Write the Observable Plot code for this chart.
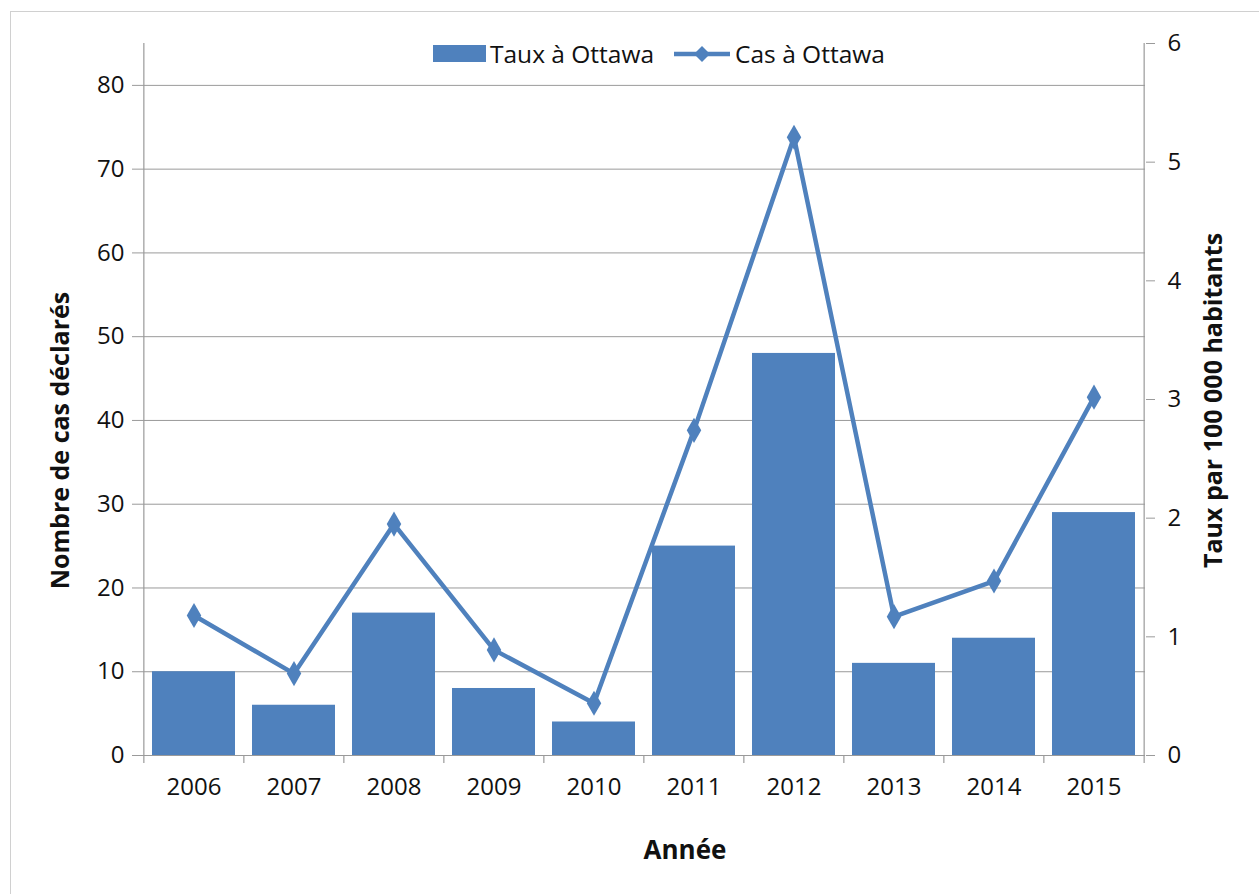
<!DOCTYPE html>
<html>
<head>
<meta charset="utf-8">
<script src="https://cdn.jsdelivr.net/npm/d3@7"></script>
<script src="https://cdn.jsdelivr.net/npm/@observablehq/plot@0.6"></script>
<style>
  html, body { margin: 0; padding: 0; background: #fff; }
  #wrap { position: relative; width: 1259px; height: 894px; overflow: hidden; font-family: "Open Sans", sans-serif; }
  #frame { position: absolute; left: 10px; top: 11px; width: 1300px; height: 900px; border: 1px solid #d0d0d0; box-sizing: border-box; }
  #chart { position: absolute; left: 0; top: 0; }
  #legend { position: absolute; top: 37px; left: 433px; display: flex; align-items: center; font-size: 24.5px; color: #111; white-space: nowrap; }
  #legend .item { display: flex; align-items: center; }
  #legend svg { display: block; }
</style>
</head>
<body>
<div id="wrap">
  <div id="frame"></div>
  <div id="chart"></div>
  <div id="legend"></div>
</div>
<script>
// ---- data ----
const years = ["2006","2007","2008","2009","2010","2011","2012","2013","2014","2015"];
const barValues = [10, 6, 17, 8, 4, 25, 48, 11, 14, 29];          // left axis (Nombre de cas déclarés)
const lineValues = [1.18, 0.69, 1.95, 0.89, 0.44, 2.74, 5.21, 1.17, 1.47, 3.02]; // right axis (Taux par 100 000)
const leftTicks = [0, 10, 20, 30, 40, 50, 60, 70, 80];
const rightTicks = [0, 1, 2, 3, 4, 5, 6];
const seriesNames = ["Taux à Ottawa", "Cas à Ottawa"];
const titleX = "Année";
const titleLeft = "Nombre de cas déclarés";
const titleRight = "Taux par 100 000 habitants";

// ---- layout ----
const W = 1259, H = 894;
const mL = 142, mR = 114, mT = 43, mB = 139;
const leftMax = 85, rightMax = 6;
const k = leftMax / rightMax;
const color = "#4f81bd";
const gridColor = "#9a9a9a";
const step = (W - mL - mR) / years.length;

const data = years.map((y, i) => ({year: y, count: barValues[i], rate: lineValues[i]}));
const lastYear = years[years.length - 1];

const plot = Plot.plot({
  width: W, height: H,
  marginLeft: mL, marginRight: mR, marginTop: mT, marginBottom: mB,
  style: {fontFamily: "'Open Sans', sans-serif", fontSize: "24px", color: "#111", background: "transparent"},
  x: {type: "band", domain: years, paddingInner: 0.17, paddingOuter: 0.085, axis: null},
  y: {domain: [0, leftMax], axis: null},
  marks: [
    Plot.gridY(leftTicks.filter(d => d > 0), {stroke: gridColor, strokeOpacity: 1, strokeWidth: 1}),
    Plot.barY(data, {x: "year", y: "count", fill: color}),
    Plot.ruleY([0], {stroke: gridColor, strokeWidth: 1.2}),
    // vertical axis lines (left and right edges of the category band)
    Plot.ruleX([years[0]], {dx: -step / 2, stroke: gridColor, strokeWidth: 1.2}),
    Plot.ruleX([lastYear], {dx: step / 2, stroke: gridColor, strokeWidth: 1.2}),
    // category boundary ticks
    Plot.ruleX(years, {x: d => d, y1: 0, y2: 0, insetBottom: -8, stroke: gridColor, strokeWidth: 1.2, dx: -step / 2}),
    Plot.ruleX([lastYear], {y1: 0, y2: 0, insetBottom: -8, stroke: gridColor, strokeWidth: 1.2, dx: step / 2}),
    Plot.line(data, {x: "year", y: d => d.rate * k, stroke: color, strokeWidth: 4.5}),
    Plot.dot(data, {x: "year", y: d => d.rate * k, symbol: "diamond", r: 7.6, fill: color, stroke: "none"}),
    Plot.axisY({anchor: "left", ticks: leftTicks, tickSize: 10, tickPadding: 8, stroke: gridColor, fill: "#111", label: null, fontSize: 24}),
    Plot.axisY({anchor: "right", ticks: rightTicks.map(v => v * k), tickFormat: d => String(Math.round(d / k)), tickSize: 9, tickPadding: 13, stroke: gridColor, fill: "#111", label: null, fontSize: 24}),
    Plot.axisX({anchor: "bottom", tickSize: 0, tickPadding: 22, fill: "#111", label: null, fontSize: 24}),
    Plot.text([titleLeft], {frameAnchor: "left", textAnchor: "middle", rotate: -90, dx: -82, dy: 41, fontWeight: "bold", fontSize: 25, fill: "#111"}),
    Plot.text([titleRight], {frameAnchor: "right", textAnchor: "middle", rotate: -90, dx: 68, dy: 1, fontWeight: "bold", fontSize: 25, fill: "#111"}),
    Plot.text([titleX], {frameAnchor: "bottom", dx: 41, dy: 103, fontWeight: "bold", fontSize: 26, fill: "#111"})
  ]
});
document.getElementById("chart").appendChild(plot);

// legend
const legend = d3.select("#legend");
const i1 = legend.append("div").attr("class", "item");
i1.append("svg").attr("width", 53).attr("height", 17).append("rect").attr("width", 53).attr("height", 17).attr("fill", color);
i1.append("span").style("margin-left", "4px").text(seriesNames[0]);
const i2 = legend.append("div").attr("class", "item").style("margin-left", "20px");
const s2 = i2.append("svg").attr("width", 56).attr("height", 18);
s2.append("line").attr("x1", 0).attr("x2", 56).attr("y1", 9).attr("y2", 9).attr("stroke", color).attr("stroke-width", 4.5);
s2.append("path").attr("d", "M28,1L36,9L28,17L20,9Z").attr("fill", color);
i2.append("span").style("margin-left", "5px").text(seriesNames[1]);
</script>
</body>
</html>
